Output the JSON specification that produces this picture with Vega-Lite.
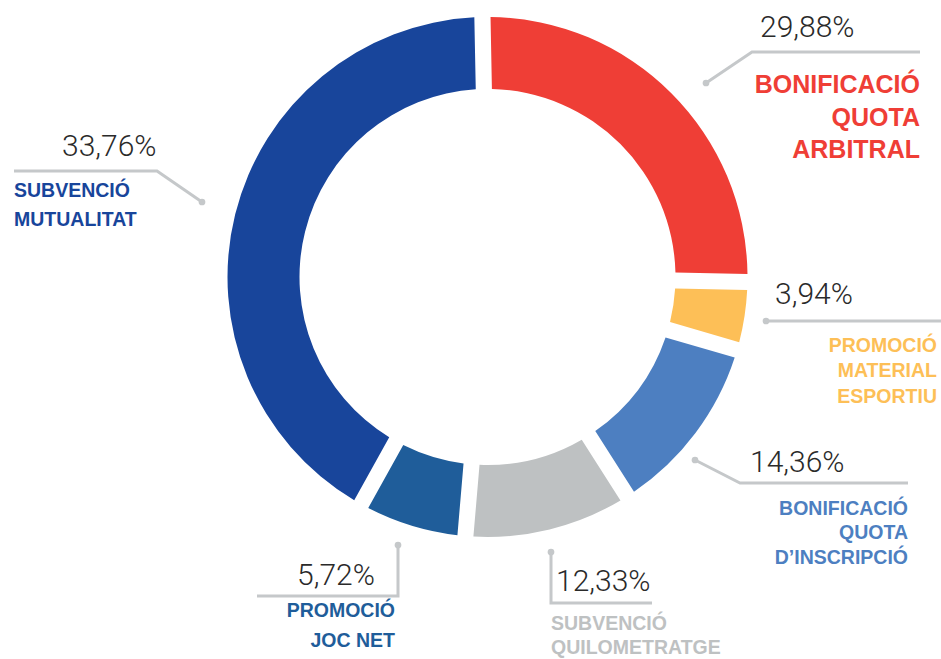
{
  "$schema": "https://vega.github.io/schema/vega-lite/v6.json",
  "width": 941,
  "height": 659,
  "autosize": {"type": "none"},
  "padding": 0,
  "background": "white",
  "config": {"view": {"stroke": null}},
  "datasets": {
    "slices": [
      {"slice": "Bonificació quota arbitral", "idx": 1, "label": "29,88%", "arc": 25.61},
      {"slice": "Promoció material esportiu", "idx": 2, "label": "3,94%", "arc": 4.22},
      {"slice": "Bonificació quota d'inscripció", "idx": 3, "label": "14,36%", "arc": 11.44},
      {"slice": "Subvenció quilometratge", "idx": 4, "label": "12,33%", "arc": 10.39},
      {"slice": "Promoció joc net", "idx": 5, "label": "5,72%", "arc": 6.72},
      {"slice": "Subvenció mutualitat", "idx": 6, "label": "33,76%", "arc": 41.61}
    ],
    "leaders": [
      {"slice": "Bonificació quota arbitral", "seq": 1, "x": 706, "y": 83},
      {"slice": "Bonificació quota arbitral", "seq": 2, "x": 752, "y": 52},
      {"slice": "Bonificació quota arbitral", "seq": 3, "x": 920, "y": 52},
      {"slice": "Promoció material esportiu", "seq": 1, "x": 766, "y": 321},
      {"slice": "Promoció material esportiu", "seq": 2, "x": 941, "y": 321},
      {"slice": "Bonificació quota d'inscripció", "seq": 1, "x": 695, "y": 460},
      {"slice": "Bonificació quota d'inscripció", "seq": 2, "x": 740, "y": 483},
      {"slice": "Bonificació quota d'inscripció", "seq": 3, "x": 908, "y": 483},
      {"slice": "Subvenció quilometratge", "seq": 1, "x": 551, "y": 552},
      {"slice": "Subvenció quilometratge", "seq": 2, "x": 551, "y": 603},
      {"slice": "Subvenció quilometratge", "seq": 3, "x": 652, "y": 603},
      {"slice": "Promoció joc net", "seq": 1, "x": 398, "y": 545},
      {"slice": "Promoció joc net", "seq": 2, "x": 398, "y": 596},
      {"slice": "Promoció joc net", "seq": 3, "x": 257, "y": 596},
      {"slice": "Subvenció mutualitat", "seq": 1, "x": 202, "y": 202},
      {"slice": "Subvenció mutualitat", "seq": 2, "x": 157, "y": 171},
      {"slice": "Subvenció mutualitat", "seq": 3, "x": 14, "y": 171}
    ],
    "pcts": [
      {"slice": "Bonificació quota arbitral", "text": "29,88%", "x": 760, "y": 37},
      {"slice": "Promoció material esportiu", "text": "3,94%", "x": 775, "y": 304},
      {"slice": "Bonificació quota d'inscripció", "text": "14,36%", "x": 750, "y": 472},
      {"slice": "Subvenció quilometratge", "text": "12,33%", "x": 556, "y": 591},
      {"slice": "Promoció joc net", "text": "5,72%", "x": 297, "y": 585},
      {"slice": "Subvenció mutualitat", "text": "33,76%", "x": 62, "y": 156}
    ],
    "names": [
      {"slice": "Bonificació quota arbitral", "side": "big", "text": "BONIFICACIÓ", "x": 920, "y": 93},
      {"slice": "Bonificació quota arbitral", "side": "big", "text": "QUOTA", "x": 920, "y": 126},
      {"slice": "Bonificació quota arbitral", "side": "big", "text": "ARBITRAL", "x": 920, "y": 158},
      {"slice": "Promoció material esportiu", "side": "right", "text": "PROMOCIÓ", "x": 937, "y": 352},
      {"slice": "Promoció material esportiu", "side": "right", "text": "MATERIAL", "x": 937, "y": 377},
      {"slice": "Promoció material esportiu", "side": "right", "text": "ESPORTIU", "x": 937, "y": 403},
      {"slice": "Bonificació quota d'inscripció", "side": "right", "text": "BONIFICACIÓ", "x": 908, "y": 515},
      {"slice": "Bonificació quota d'inscripció", "side": "right", "text": "QUOTA", "x": 908, "y": 539},
      {"slice": "Bonificació quota d'inscripció", "side": "right", "text": "D’INSCRIPCIÓ", "x": 908, "y": 564},
      {"slice": "Subvenció quilometratge", "side": "left", "text": "SUBVENCIÓ", "x": 551, "y": 630},
      {"slice": "Subvenció quilometratge", "side": "left", "text": "QUILOMETRATGE", "x": 551, "y": 654},
      {"slice": "Promoció joc net", "side": "right", "text": "PROMOCIÓ", "x": 395, "y": 617},
      {"slice": "Promoció joc net", "side": "right", "text": "JOC NET", "x": 395, "y": 647},
      {"slice": "Subvenció mutualitat", "side": "left", "text": "SUBVENCIÓ", "x": 14, "y": 197},
      {"slice": "Subvenció mutualitat", "side": "left", "text": "MUTUALITAT", "x": 14, "y": 226}
    ]
  },
  "layer": [
    {
      "data": {"name": "slices"},
      "mark": {"type": "arc", "outerRadius": 260, "innerRadius": 188, "padAngle": 0.05},
      "encoding": {
        "x": {"datum": 487.5, "type": "quantitative", "scale": {"domain": [0, 941], "nice": false, "zero": false}, "axis": null},
        "y": {"datum": 277, "type": "quantitative", "scale": {"domain": [0, 659], "nice": false, "zero": false, "reverse": true}, "axis": null},
        "theta": {"field": "arc", "type": "quantitative", "stack": true, "scale": {"domain": [0, 100], "range": [-0.0192, 6.264]}},
        "order": {"field": "idx", "type": "quantitative"},
        "color": {
          "field": "slice", "type": "nominal", "legend": null,
          "scale": {
            "domain": ["Bonificació quota arbitral", "Promoció material esportiu", "Bonificació quota d'inscripció", "Subvenció quilometratge", "Promoció joc net", "Subvenció mutualitat"],
            "range": ["#EF3E36", "#FDBF57", "#4D7FC1", "#BEC1C2", "#1F5D9A", "#18459B"]
          }
        }
      }
    },
    {
      "data": {"name": "leaders"},
      "mark": {"type": "line", "color": "#C5C8CA", "strokeWidth": 3, "strokeCap": "butt"},
      "encoding": {
        "x": {"field": "x", "type": "quantitative", "scale": {"domain": [0, 941], "nice": false, "zero": false}, "axis": null},
        "y": {"field": "y", "type": "quantitative", "scale": {"domain": [0, 659], "nice": false, "zero": false, "reverse": true}, "axis": null},
        "detail": {"field": "slice", "type": "nominal"},
        "order": {"field": "seq", "type": "quantitative"}
      }
    },
    {
      "data": {"name": "leaders"},
      "transform": [{"filter": "datum.seq == 1"}],
      "mark": {"type": "point", "filled": true, "color": "#C5C8CA", "size": 45, "opacity": 1},
      "encoding": {
        "x": {"field": "x", "type": "quantitative", "scale": {"domain": [0, 941], "nice": false, "zero": false}, "axis": null},
        "y": {"field": "y", "type": "quantitative", "scale": {"domain": [0, 659], "nice": false, "zero": false, "reverse": true}, "axis": null}
      }
    },
    {
      "data": {"name": "pcts"},
      "mark": {"type": "text", "align": "left", "baseline": "alphabetic", "font": "Roboto", "fontWeight": 300, "fontSize": 30, "color": "#2A2A2A"},
      "encoding": {
        "x": {"field": "x", "type": "quantitative", "scale": {"domain": [0, 941], "nice": false, "zero": false}, "axis": null},
        "y": {"field": "y", "type": "quantitative", "scale": {"domain": [0, 659], "nice": false, "zero": false, "reverse": true}, "axis": null},
        "text": {"field": "text", "type": "nominal"}
      }
    },
    {
      "data": {"name": "names"},
      "transform": [{"filter": "datum.side == 'big'"}],
      "mark": {"type": "text", "align": "right", "baseline": "alphabetic", "font": "Liberation Sans", "fontWeight": "bold", "fontSize": 25},
      "encoding": {
        "x": {"field": "x", "type": "quantitative", "scale": {"domain": [0, 941], "nice": false, "zero": false}, "axis": null},
        "y": {"field": "y", "type": "quantitative", "scale": {"domain": [0, 659], "nice": false, "zero": false, "reverse": true}, "axis": null},
        "text": {"field": "text", "type": "nominal"},
        "color": {"field": "slice", "type": "nominal", "legend": null}
      }
    },
    {
      "data": {"name": "names"},
      "transform": [{"filter": "datum.side == 'right'"}],
      "mark": {"type": "text", "align": "right", "baseline": "alphabetic", "font": "Liberation Sans", "fontWeight": "bold", "fontSize": 19.5},
      "encoding": {
        "x": {"field": "x", "type": "quantitative", "scale": {"domain": [0, 941], "nice": false, "zero": false}, "axis": null},
        "y": {"field": "y", "type": "quantitative", "scale": {"domain": [0, 659], "nice": false, "zero": false, "reverse": true}, "axis": null},
        "text": {"field": "text", "type": "nominal"},
        "color": {"field": "slice", "type": "nominal", "legend": null}
      }
    },
    {
      "data": {"name": "names"},
      "transform": [{"filter": "datum.side == 'left'"}],
      "mark": {"type": "text", "align": "left", "baseline": "alphabetic", "font": "Liberation Sans", "fontWeight": "bold", "fontSize": 19.5},
      "encoding": {
        "x": {"field": "x", "type": "quantitative", "scale": {"domain": [0, 941], "nice": false, "zero": false}, "axis": null},
        "y": {"field": "y", "type": "quantitative", "scale": {"domain": [0, 659], "nice": false, "zero": false, "reverse": true}, "axis": null},
        "text": {"field": "text", "type": "nominal"},
        "color": {"field": "slice", "type": "nominal", "legend": null}
      }
    }
  ]
}
